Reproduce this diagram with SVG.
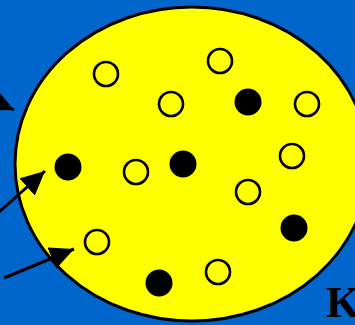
<svg xmlns="http://www.w3.org/2000/svg" width="355" height="325" viewBox="0 0 355 325">
<style>
.open{fill:#FFFF00;stroke:#000;stroke-width:2.6}
.dot{fill:#000}
.conn{stroke:#000;stroke-width:3;fill:none;marker-end:url(#head)}
.lbl{font-family:"Liberation Serif","Times New Roman",serif;font-weight:bold;font-size:44px;fill:#000}
</style>
<defs>
<marker id="head" viewBox="0 0 24 23" refX="24" refY="11.5" markerWidth="24" markerHeight="23" markerUnits="userSpaceOnUse" orient="auto">
<path d="M0,0 L24,11.5 L0,23 Z" fill="#000"/>
</marker>
</defs>
<rect x="0" y="0" width="355" height="325" fill="#0066CC"/>
<g id="region">
<ellipse cx="192" cy="164" rx="177" ry="157" fill="#FFFF00" stroke="#000" stroke-width="3"/>
</g>
<g id="particles">
<g id="o1"><circle class="open" cx="106" cy="74" r="12"/></g>
<g id="o2"><circle class="open" cx="220" cy="61" r="12"/></g>
<g id="o3"><circle class="open" cx="171" cy="104" r="12"/></g>
<g id="o4"><circle class="open" cx="307" cy="104" r="12"/></g>
<g id="o5"><circle class="open" cx="292" cy="156" r="12"/></g>
<g id="o6"><circle class="open" cx="136" cy="172" r="12"/></g>
<g id="o7"><circle class="open" cx="248" cy="192" r="12"/></g>
<g id="o8"><circle class="open" cx="97" cy="242" r="12"/></g>
<g id="o9"><circle class="open" cx="218" cy="272" r="12"/></g>
<g id="d1"><circle class="dot" cx="248" cy="102" r="13.5"/></g>
<g id="d2"><circle class="dot" cx="183" cy="164" r="13.5"/></g>
<g id="d3"><circle class="dot" cx="68" cy="167" r="13.5"/></g>
<g id="d4"><circle class="dot" cx="294" cy="228" r="13.5"/></g>
<g id="d5"><circle class="dot" cx="159" cy="283" r="13.5"/></g>
</g>
<g id="connectors">
<path class="conn" d="M-40,85 L14,110"/>
<path class="conn" d="M-2,213 L45,171"/>
<path class="conn" d="M4,278 L74,249"/>
</g>
<g id="label">
<text class="lbl" x="326" y="317">K</text>
</g>
</svg>
